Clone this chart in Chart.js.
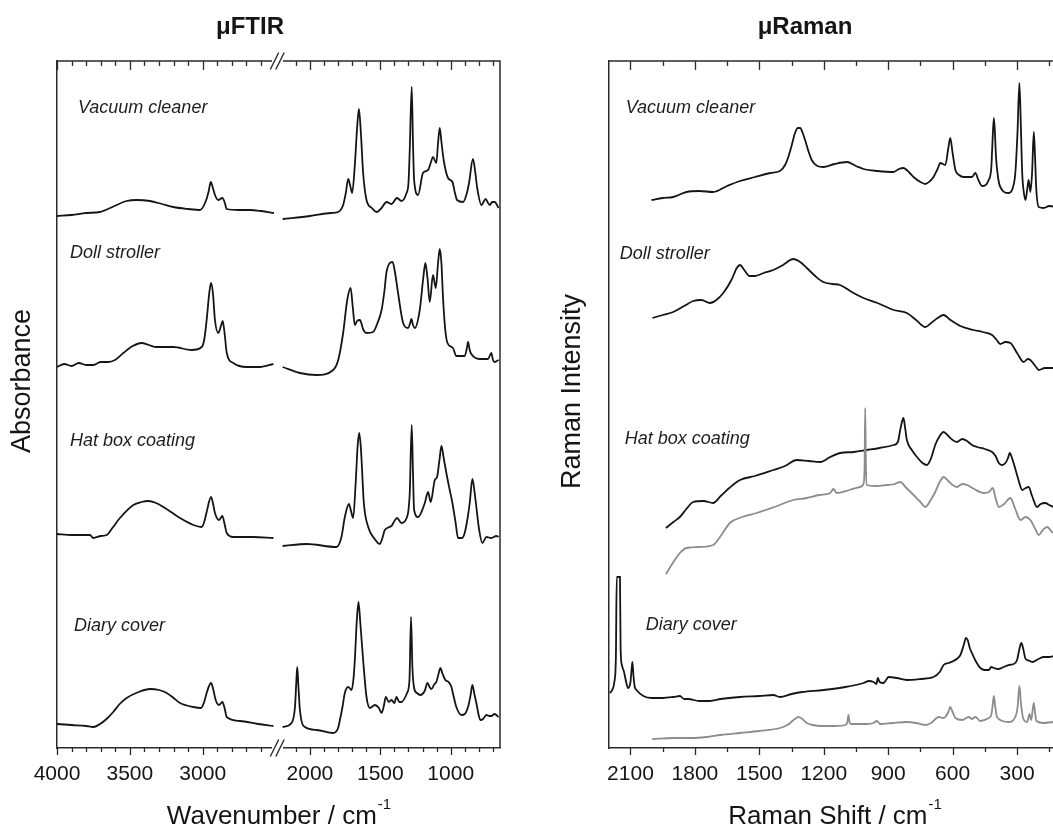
<!DOCTYPE html>
<html>
<head>
<meta charset="utf-8">
<script src="https://cdn.jsdelivr.net/npm/chart.js@4.4.1/dist/chart.umd.min.js"></script>
<style>
html,body{margin:0;padding:0;background:#fff;overflow:hidden;width:1053px;height:829px;}
#wrap{position:relative;width:1053px;height:829px;overflow:hidden;background:#fff;}
#ftir{position:absolute;left:0;top:0;}
#raman{position:absolute;left:550px;top:0;}
</style>
</head>
<body>
<div id="wrap">
<canvas id="ftir" width="530" height="829"></canvas>
<canvas id="raman" width="566" height="829"></canvas>
</div>
<script>
// ---------------- DATA ----------------
// µFTIR spectra: [wavenumber (cm-1), absorbance (a.u., stacked)]
// high-wavenumber part (4000–2500) and low-wavenumber part (2200–650)
const ftirVacuumHigh = [[4000,53.2],[3900,53.3],[3800,53.5],[3705,53.6],[3620,54.1],[3522,54.7],[3453,54.8],[3362,54.7],[3280,54.4],[3202,54.1],[3100,53.9],[3019,53.8],[2984,54.5],[2960,55.6],[2945,56.6],[2930,56.0],[2916,55.3],[2893,54.8],[2865,55.0],[2850,54.6],[2835,53.9],[2750,53.8],[2675,53.8],[2600,53.7],[2511,53.5]];
const ftirVacuumLow = [[2194,52.9],[2000,53.2],[1850,53.5],[1799,53.6],[1764,54.3],[1745,55.5],[1728,56.9],[1715,56.3],[1700,55.5],[1680,58.5],[1665,62.0],[1652,63.9],[1638,61.5],[1622,57.5],[1598,54.8],[1560,54.0],[1527,53.6],[1491,54.0],[1456,54.6],[1421,54.4],[1381,55.0],[1350,54.7],[1314,55.5],[1300,56.5],[1291,59.8],[1277,66.1],[1268,60.5],[1260,56.8],[1232,55.3],[1197,57.5],[1161,57.8],[1140,58.6],[1126,59.1],[1102,58.5],[1090,60.5],[1078,62.0],[1065,60.5],[1050,58.8],[1019,57.0],[988,56.6],[970,55.5],[955,54.8],[912,54.6],[885,55.5],[870,56.5],[842,58.9],[825,57.5],[813,56.1],[782,54.3],[752,54.9],[735,54.5],[723,54.3],[705,54.6],[688,54.6],[660,54.0]];
const ftirDollHigh = [[4000,38.1],[3950,38.4],[3900,38.2],[3850,38.5],[3800,38.3],[3751,38.3],[3700,38.6],[3650,38.6],[3602,38.8],[3545,39.5],[3480,40.2],[3419,40.5],[3370,40.3],[3316,40.1],[3202,40.1],[3076,39.8],[3007,40.1],[2990,40.8],[2973,42.8],[2955,45.5],[2943,46.5],[2930,45.5],[2916,42.8],[2893,41.5],[2875,42.2],[2863,42.7],[2850,41.5],[2835,39.5],[2790,38.5],[2698,38.1],[2607,38.1],[2515,38.4]];
const ftirDollLow = [[2194,38.1],[2071,37.5],[1953,37.3],[1835,37.8],[1799,38.8],[1764,41.5],[1735,44.8],[1711,46.0],[1695,44.0],[1681,42.3],[1665,42.7],[1645,42.8],[1620,41.8],[1598,41.5],[1551,41.6],[1520,42.5],[1491,43.8],[1470,45.8],[1456,47.6],[1413,48.6],[1395,47.5],[1374,45.5],[1338,42.5],[1303,42.0],[1290,42.4],[1279,42.9],[1268,42.3],[1255,42.0],[1220,43.8],[1195,47.0],[1180,48.5],[1165,47.0],[1149,44.6],[1126,47.3],[1106,46.0],[1090,48.5],[1078,49.9],[1066,48.5],[1055,45.1],[1040,42.0],[1023,40.5],[984,40.0],[960,39.2],[901,39.2],[885,40.0],[877,40.6],[865,39.8],[858,39.5],[794,38.9],[735,38.9],[712,39.5],[700,38.8],[688,38.6],[660,38.8]];
const ftirHatHigh = [[4000,21.4],[3900,21.3],[3800,21.3],[3774,21.3],[3751,21.0],[3700,21.2],[3659,21.3],[3620,22.0],[3568,23.0],[3476,24.3],[3420,24.6],[3373,24.7],[3320,24.5],[3270,24.1],[3156,23.0],[3064,22.3],[3007,22.1],[2990,22.6],[2973,23.6],[2943,25.1],[2930,24.5],[2916,23.5],[2888,22.8],[2865,23.2],[2850,22.4],[2835,21.5],[2790,21.1],[2653,21.1],[2515,21.0]];
const ftirHatLow = [[2194,20.2],[2023,20.4],[1811,20.1],[1776,21.1],[1752,23.1],[1723,24.4],[1710,23.8],[1693,23.0],[1675,26.5],[1662,30.0],[1650,31.5],[1638,30.0],[1617,24.5],[1586,22.1],[1540,20.9],[1504,20.4],[1485,21.0],[1468,21.8],[1421,22.2],[1400,22.7],[1381,23.0],[1350,22.5],[1310,23.1],[1300,23.8],[1291,25.5],[1277,32.3],[1268,27.5],[1260,23.8],[1232,23.1],[1184,24.5],[1161,25.6],[1142,24.6],[1113,26.8],[1097,27.1],[1080,28.8],[1066,30.2],[1050,29.0],[1031,27.5],[1010,26.0],[988,24.5],[965,22.5],[948,21.0],[920,21.0],[901,21.5],[880,23.0],[865,24.5],[846,26.9],[830,25.5],[818,24.1],[800,22.0],[775,20.5],[747,21.1],[712,21.0],[676,21.2],[660,21.1]];
const ftirDiaryHigh = [[4000,2.4],[3900,2.3],[3800,2.2],[3751,2.1],[3705,2.4],[3660,2.9],[3614,3.6],[3570,4.4],[3522,5.0],[3440,5.6],[3362,5.9],[3300,5.8],[3247,5.5],[3200,5.0],[3156,4.5],[3064,4.1],[3012,4.0],[2990,4.6],[2973,5.5],[2943,6.5],[2930,6.0],[2911,4.8],[2888,4.3],[2865,4.6],[2850,4.0],[2835,3.1],[2744,2.7],[2620,2.4],[2515,2.2]];
const ftirDiaryLow = [[2194,2.1],[2130,2.5],[2106,4.1],[2097,6.5],[2090,8.1],[2083,6.5],[2071,3.8],[2035,2.1],[1950,1.8],[1835,1.5],[1800,2.0],[1787,2.8],[1770,4.0],[1752,5.5],[1728,6.1],[1704,5.8],[1690,7.0],[1681,8.8],[1668,12.5],[1655,14.6],[1642,12.5],[1622,8.8],[1598,5.1],[1574,4.0],[1539,4.3],[1510,4.0],[1491,3.5],[1475,4.2],[1461,5.1],[1440,4.6],[1421,4.8],[1400,4.5],[1385,5.1],[1365,4.6],[1350,4.6],[1310,5.5],[1293,6.8],[1282,13.1],[1272,8.0],[1260,6.0],[1240,5.5],[1215,5.3],[1185,5.7],[1165,6.5],[1150,6.1],[1137,5.9],[1115,6.4],[1102,6.6],[1085,7.5],[1073,8.0],[1060,7.5],[1038,6.8],[1015,6.6],[995,6.1],[980,5.2],[960,4.1],[924,3.3],[900,3.4],[877,4.1],[860,5.2],[846,6.3],[832,5.4],[818,4.5],[800,3.2],[790,2.8],[770,2.9],[747,3.3],[725,3.2],[712,3.2],[688,3.4],[660,3.1]];

// µRaman spectra: [Raman shift (cm-1), intensity (a.u., stacked)]
const ramanVacuum = [[2002,54.8],[1950,55.0],[1901,55.1],[1839,55.6],[1780,55.7],[1715,55.6],[1650,56.2],[1590,56.7],[1520,57.1],[1450,57.5],[1404,57.7],[1380,58.3],[1365,59.1],[1350,60.2],[1334,61.5],[1320,62.0],[1310,62.0],[1298,61.5],[1287,60.8],[1270,59.6],[1256,58.8],[1230,58.2],[1202,58.1],[1150,58.4],[1093,58.6],[1050,58.2],[1015,57.9],[950,57.7],[875,57.6],[850,57.9],[829,58.0],[800,57.5],[782,57.1],[750,56.6],[727,56.4],[705,56.7],[689,57.1],[670,57.9],[657,58.5],[634,58.3],[620,60.0],[611,61.0],[600,59.5],[587,57.8],[570,57.3],[549,57.1],[510,57.1],[494,57.5],[480,56.8],[463,56.2],[432,56.8],[420,58.0],[416,59.8],[408,63.0],[403,61.5],[398,59.1],[388,57.0],[378,56.1],[339,55.5],[320,56.0],[308,57.5],[298,61.5],[289,66.5],[282,62.0],[276,57.5],[268,55.5],[261,54.8],[250,56.3],[246,56.8],[238,55.6],[230,57.5],[222,61.6],[216,59.0],[211,56.1],[199,54.1],[176,54.0],[150,54.2],[115,54.1]];
const ramanDoll = [[1998,43.0],[1950,43.3],[1901,43.6],[1850,44.2],[1808,44.7],[1770,44.8],[1730,44.5],[1700,44.8],[1668,45.5],[1630,46.8],[1605,48.0],[1590,48.3],[1570,47.8],[1545,47.2],[1520,47.2],[1480,47.5],[1435,47.8],[1390,48.3],[1342,48.9],[1310,48.6],[1279,48.0],[1240,47.2],[1202,46.6],[1160,46.4],[1124,46.3],[1070,45.6],[1015,45.0],[950,44.5],[875,43.8],[813,43.5],[770,42.8],[727,42.1],[700,42.5],[670,43.0],[642,43.3],[610,42.8],[564,42.2],[502,41.8],[460,41.6],[416,41.3],[395,40.8],[378,40.4],[355,40.6],[331,40.5],[300,39.5],[269,38.6],[250,38.9],[238,38.8],[215,38.2],[199,37.8],[170,38.0],[130,38.0],[115,37.9]];
const ramanHat = [[1935,22.0],[1900,22.6],[1870,23.1],[1840,23.9],[1808,24.6],[1760,24.7],[1715,24.5],[1680,25.2],[1640,26.0],[1590,26.8],[1520,27.2],[1435,27.8],[1380,28.2],[1326,28.8],[1270,28.7],[1217,28.6],[1170,29.1],[1124,29.5],[1060,29.6],[999,29.8],[940,30.0],[875,30.3],[855,30.6],[844,31.8],[836,32.6],[829,33.0],[821,32.0],[813,30.8],[790,29.8],[766,29.1],[740,28.5],[720,28.3],[700,29.0],[681,30.3],[660,31.2],[642,31.6],[620,31.2],[600,30.8],[580,30.6],[555,30.9],[533,30.7],[510,30.3],[486,30.1],[450,29.9],[416,29.6],[400,29.2],[385,28.5],[370,28.3],[354,28.5],[342,29.0],[334,29.5],[325,29.1],[316,28.5],[300,27.3],[285,26.2],[276,25.8],[260,26.0],[246,26.1],[230,25.2],[207,24.1],[190,24.4],[168,24.5],[150,24.3],[130,24.1],[115,24.0]];
const ramanHatRef = [[1935,17.4],[1900,18.6],[1870,19.5],[1839,20.0],[1780,20.1],[1715,20.3],[1680,21.2],[1637,22.5],[1580,23.1],[1513,23.5],[1430,24.1],[1342,24.8],[1279,25.0],[1220,25.3],[1170,25.5],[1155,25.9],[1140,25.5],[1080,25.8],[1031,26.1],[1015,26.4],[1010,28.0],[1007,34.0],[1004,28.5],[999,26.3],[960,26.2],[906,26.3],[870,26.4],[844,26.6],[815,26.0],[782,25.3],[750,24.6],[727,24.1],[705,24.7],[681,25.6],[660,26.6],[642,27.1],[620,26.7],[600,26.3],[580,26.1],[555,26.4],[533,26.3],[500,25.9],[455,25.5],[430,25.6],[413,26.0],[400,25.0],[385,24.1],[360,24.4],[331,25.0],[310,24.0],[284,22.8],[260,23.1],[238,22.8],[215,21.9],[199,21.3],[180,21.8],[160,22.1],[130,21.5],[115,21.6]];
const ramanDiary = [[2196,5.5],[2185,5.8],[2175,6.6],[2168,9.0],[2164,17.1],[2149,17.1],[2146,10.0],[2140,8.3],[2130,7.6],[2118,6.4],[2111,6.0],[2100,6.6],[2095,7.8],[2091,8.6],[2086,7.2],[2080,6.1],[2072,5.8],[2040,5.2],[2002,5.0],[1950,5.0],[1900,5.1],[1870,5.2],[1850,4.9],[1831,4.9],[1780,4.7],[1730,4.7],[1680,4.9],[1590,5.1],[1500,5.2],[1435,5.3],[1404,5.1],[1350,5.4],[1300,5.6],[1202,5.8],[1100,6.1],[1015,6.5],[990,6.7],[968,6.6],[955,6.4],[948,7.0],[940,6.6],[922,6.5],[910,6.8],[898,7.1],[860,7.0],[813,6.8],[750,6.9],[689,7.1],[660,7.6],[642,8.3],[620,8.5],[596,8.7],[575,9.0],[564,9.3],[548,10.3],[538,11.0],[530,10.8],[520,10.0],[510,9.5],[490,8.6],[471,8.0],[450,7.8],[432,7.8],[420,8.1],[408,8.0],[385,7.9],[362,8.1],[340,8.3],[316,8.4],[300,8.8],[290,9.8],[280,10.5],[270,9.8],[262,9.0],[253,8.8],[240,8.7],[229,8.6],[200,8.9],[176,9.1],[150,9.1],[130,9.2],[115,9.3]];
const ramanDiaryRef = [[1998,0.9],[1900,1.0],[1800,1.0],[1746,1.1],[1680,1.3],[1590,1.5],[1500,1.7],[1404,2.0],[1370,2.3],[1357,2.5],[1335,2.9],[1318,3.1],[1300,2.9],[1279,2.5],[1250,2.3],[1217,2.2],[1150,2.2],[1100,2.3],[1090,2.6],[1085,3.3],[1080,2.6],[1073,2.4],[1000,2.4],[968,2.5],[953,2.7],[937,2.4],[880,2.5],[813,2.6],[770,2.5],[727,2.3],[700,2.5],[665,3.1],[645,3.0],[634,3.1],[620,3.6],[611,4.1],[600,3.6],[587,3.0],[556,2.8],[525,3.1],[510,2.9],[494,3.1],[471,2.7],[432,3.0],[420,3.3],[414,4.2],[408,5.2],[402,4.2],[395,3.2],[390,3.0],[339,2.6],[308,3.1],[298,4.0],[289,6.2],[282,4.5],[272,3.0],[253,2.6],[242,3.4],[234,2.8],[222,4.5],[216,3.5],[210,2.7],[176,2.5],[130,2.6],[115,2.6]];

// Tick values
const ftirMajorHigh = [4000, 3500, 3000];
const ftirMinorHigh = [3900, 3800, 3700, 3600, 3400, 3300, 3200, 3100, 2900, 2800, 2700, 2600];
const ftirMajorLow = [2000, 1500, 1000];
const ftirMinorLow = [2100, 1900, 1800, 1700, 1600, 1400, 1300, 1200, 1100, 900, 800, 700];
const ramanMajor = [2100, 1800, 1500, 1200, 900, 600, 300];
const ramanMinor = [1950, 1650, 1350, 1050, 750, 450, 150];

// Sample names
const sampleNames = ['Vacuum cleaner', 'Doll stroller', 'Hat box coating', 'Diary cover'];

// ---------------- RENDERING ----------------
const FONT = '"Liberation Sans", Arial, Helvetica, sans-serif';
const INK = '#151515';
const AXIS = '#2b2b2b';
const GREY = '#8c8c8c';
Chart.defaults.font.family = FONT;
Chart.defaults.color = INK;

const decor = {
  id: 'decor',
  afterDraw(chart, args, o) {
    const ctx = chart.ctx, a = chart.chartArea, ys = chart.scales.y;
    ctx.save();
    ctx.strokeStyle = AXIS;
    ctx.lineWidth = 1.5;
    ctx.beginPath();
    ctx.moveTo(a.left, a.top); ctx.lineTo(a.right, a.top); ctx.lineTo(a.right, a.bottom);
    ctx.stroke();
    ctx.lineWidth = 1.3;
    o.ticks.forEach(g => {
      const sc = chart.scales[g.axis];
      const draw = (vals, lt, lb) => vals.forEach(v => {
        const x = Math.round(sc.getPixelForValue(v)) + 0.5;
        ctx.beginPath();
        ctx.moveTo(x, a.top); ctx.lineTo(x, a.top + lt);
        ctx.moveTo(x, a.bottom); ctx.lineTo(x, a.bottom + lb);
        ctx.stroke();
      });
      draw(g.major, 9, 7);
      draw(g.minor, 5, 4);
    });
    if (o.breakAt) {
      const jx = chart.scales[o.breakAt].right;
      [a.top, a.bottom].forEach(by => {
        ctx.fillStyle = '#fff';
        ctx.fillRect(jx - 7.5, by - 2, 11, 4);
        ctx.lineWidth = 1.4;
        ctx.beginPath();
        [-5, 0.5].forEach(dx => { ctx.moveTo(jx + dx - 4.2, by + 8.5); ctx.lineTo(jx + dx + 4.2, by - 8.5); });
        ctx.stroke();
      });
    }
    // sample names
    ctx.fillStyle = '#1e1e1e';
    ctx.font = 'italic 18px ' + FONT;
    ctx.textAlign = 'left';
    ctx.textBaseline = 'middle';
    const ls = chart.scales[o.labelAxis];
    o.labels.forEach((t, i) => ctx.fillText(t, ls.getPixelForValue(o.labelX[i]), ys.getPixelForValue(o.labelY[i])));
    // y title
    ctx.fillStyle = INK;
    ctx.font = '27px ' + FONT;
    ctx.textAlign = 'center';
    ctx.save();
    ctx.translate(o.yTitleX, o.yTitleY);
    ctx.rotate(-Math.PI / 2);
    ctx.fillText(o.yTitle, 0, 0);
    ctx.restore();
    // x title with superscript
    ctx.textBaseline = 'alphabetic';
    ctx.textAlign = 'left';
    ctx.font = '26px ' + FONT;
    const wMain = ctx.measureText(o.xTitle).width;
    ctx.font = '15px ' + FONT;
    const wSup = ctx.measureText(o.xSup).width;
    const cx = (a.left + a.right) / 2;
    const x0 = cx - (wMain + wSup) / 2;
    const base = a.bottom + 76;
    ctx.font = '26px ' + FONT;
    ctx.fillText(o.xTitle, x0, base);
    ctx.font = '15px ' + FONT;
    ctx.fillText(o.xSup, x0 + wMain + 1, base - 15);
    ctx.restore();
  }
};

function line(data, axis, color) {
  return {
    data: data, xAxisID: axis, yAxisID: 'y',
    borderColor: color, borderWidth: 1.8, pointRadius: 0,
    fill: false, cubicInterpolationMode: 'monotone', tension: 0.3
  };
}

const tickFont = { size: 21 };
function xScale(min, max, ticks, weight, stack) {
  const s = {
    type: 'linear', position: 'bottom', min: min, max: max, reverse: true,
    grid: { display: false, drawTicks: false },
    border: { display: true, color: AXIS, width: 1.5 },
    ticks: { padding: 14, font: tickFont, color: INK, autoSkip: false, maxRotation: 0,
             callback: v => String(v) },
    afterBuildTicks: sc => { sc.ticks = ticks.map(v => ({ value: v })); },
    afterFit: sc => { sc.height = 81; }
  };
  if (stack) { s.stack = stack; s.stackWeight = weight; }
  return s;
}
const yScale = {
  type: 'linear', min: 0, max: 68.7,
  grid: { display: false, drawTicks: false },
  border: { display: true, color: AXIS, width: 1.5 },
  ticks: { display: false },
  afterFit: sc => { sc.width = sc.chart.canvas.id === 'ftir' ? 57 : 59; }
};

new Chart(document.getElementById('ftir'), {
  type: 'line',
  data: {
    datasets: [
      line(ftirVacuumHigh, 'xHigh', INK), line(ftirVacuumLow, 'xLow', INK),
      line(ftirDollHigh, 'xHigh', INK), line(ftirDollLow, 'xLow', INK),
      line(ftirHatHigh, 'xHigh', INK), line(ftirHatLow, 'xLow', INK),
      line(ftirDiaryHigh, 'xHigh', INK), line(ftirDiaryLow, 'xLow', INK)
    ]
  },
  options: {
    responsive: false, animation: false, devicePixelRatio: 1,
    layout: { padding: { left: 0, right: 30, top: 0, bottom: 0 } },
    plugins: {
      legend: { display: false }, tooltip: { enabled: false },
      title: { display: true, text: 'μFTIR', color: INK, font: { size: 24, weight: 'bold' }, padding: { top: 13, bottom: 19.2 } },
      decor: {
        ticks: [
          { axis: 'xHigh', major: ftirMajorHigh, minor: ftirMinorHigh },
          { axis: 'xLow', major: ftirMajorLow, minor: ftirMinorLow }
        ],
        breakAt: 'xHigh',
        labels: sampleNames, labelAxis: 'xHigh',
        labelX: [3856, 3911, 3911, 3883], labelY: [64.0, 49.5, 30.7, 12.2],
        yTitle: 'Absorbance', yTitleX: 23, yTitleY: 381,
        xTitle: 'Wavenumber / cm', xSup: '-1'
      }
    },
    scales: {
      xHigh: xScale(2473, 4000, ftirMajorHigh, 222.5, 'ftirx'),
      xLow: xScale(650, 2216, ftirMajorLow, 220.5, 'ftirx'),
      y: yScale
    }
  },
  plugins: [decor]
});

new Chart(document.getElementById('raman'), {
  type: 'line',
  data: {
    datasets: [
      line(ramanVacuum, 'xR', INK),
      line(ramanDoll, 'xR', INK),
      line(ramanHatRef, 'xR', GREY),
      line(ramanHat, 'xR', INK),
      line(ramanDiaryRef, 'xR', GREY),
      line(ramanDiary, 'xR', INK)
    ]
  },
  options: {
    responsive: false, animation: false, devicePixelRatio: 1,
    layout: { padding: { left: 0, right: 56, top: 0, bottom: 0 } },
    plugins: {
      legend: { display: false }, tooltip: { enabled: false },
      title: { display: true, text: 'μRaman', color: INK, font: { size: 24, weight: 'bold' }, padding: { top: 13, bottom: 19.2 } },
      decor: {
        ticks: [{ axis: 'xR', major: ramanMajor, minor: ramanMinor }],
        breakAt: null,
        labels: sampleNames, labelAxis: 'xR',
        labelX: [2122, 2150, 2127, 2029], labelY: [64.0, 49.4, 30.9, 12.3],
        yTitle: 'Raman Intensity', yTitleX: 23, yTitleY: 391.5,
        xTitle: 'Raman Shift / cm', xSup: '-1'
      }
    },
    scales: {
      xR: xScale(100, 2200, ramanMajor, 1, null),
      y: yScale
    }
  },
  plugins: [decor]
});
</script>
</body>
</html>
